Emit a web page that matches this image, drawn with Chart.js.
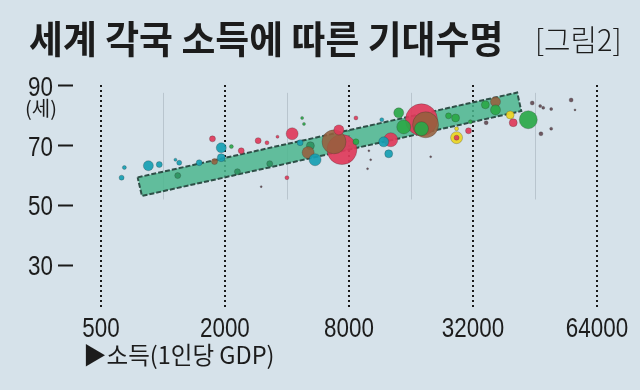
<!DOCTYPE html>
<html>
<head>
<meta charset="utf-8">
<script src="https://cdn.jsdelivr.net/npm/chart.js@4.4.1/dist/chart.umd.min.js"></script>
<style>
    body { margin: 0; background: #d6e2ea; }
    #wrap { position: relative; width: 640px; height: 390px; overflow: hidden; background: #d6e2ea; }
    #chart { position: absolute; left: 0; top: 0; }
    .txt { position: absolute; white-space: nowrap; color: #1c1c1c; line-height: 1; font-family: "Noto Sans CJK KR", sans-serif; transform-origin: left top; }
    #title { left: 29px; top: 18px; font-size: 38px; font-weight: 700; transform: scaleX(0.97); }
    #fig { left: 535px; top: 23px; font-size: 30px; font-weight: 300; transform: scaleX(0.96); }
    #unit { left: 25px; top: 98px; font-size: 20px; }
    #xtitle { left: 83px; top: 342px; font-size: 24px; transform: scaleX(0.98); }
</style>
</head>
<body>
<div id="wrap">
    <canvas id="chart" width="640" height="390"></canvas>
    <div class="txt" id="title">세계 각국 소득에 따른 기대수명</div>
    <div class="txt" id="fig">[그림2]</div>
    <div class="txt" id="unit">(세)</div>
    <div class="txt" id="xtitle">▶소득(1인당 GDP)</div>
</div>
<script>
// 축 눈금
const xTickLabels = ['500', '2000', '8000', '32000', '64000'];
const xMinorTicks = [0.5, 1.5, 2.5, 3.5];
const yTicks = [30, 50, 70, 90];

// 추세 띠 (1인당 GDP, 기대수명) - 네 꼭짓점
const bandGdp = [754, 40980, 41930, 791, 754];
const bandLife = [59.4, 87.8, 81.6, 53.2, 59.4];

// 국가별 원 (1인당 GDP, 기대수명, 원 크기, 색 그룹)
const bubbleGdp = [
    630, 650, 850, 960, 1150, 1200, 1180, 1500, 1740, 1780,
    1920, 1920, 2150, 2300, 2400, 2900, 3200, 3300, 3600, 4000,
    3000, 4240, 4740, 4840, 4635, 5200, 5070, 5480, 7400, 6770,
    7150, 8650, 8650, 10000, 10200, 9850, 11550, 12770, 11800, 12480,
    13960, 18000, 18850, 18000, 14760, 19950, 24350, 26350, 26650, 26650,
    26650, 30450, 31100, 34300, 36300, 36300, 39400, 40080, 43600, 34450,
    44570, 46600, 47400, 49550, 55400, 56600, 46800, 49550
];
const bubbleLife = [
    59.3, 62.7, 63.3, 63.7, 65.3, 64.3, 60.0, 64.3, 72.3, 64.7,
    69.3, 66.0, 69.7, 61.3, 68.3, 71.7, 71.0, 64.0, 73.0, 59.3,
    56.3, 74.0, 79.3, 77.3, 71.0, 70.0, 67.7, 65.3, 68.7, 71.3,
    75.3, 71.3, 79.3, 68.3, 65.3, 62.3, 78.7, 72.0, 71.3, 67.3,
    81.0, 78.7, 77.0, 75.7, 76.3, 66.3, 80.0, 79.3, 72.7, 75.7,
    72.7, 75.0, 78.0, 83.7, 84.7, 82.0, 80.3, 77.7, 78.7, 77.7,
    84.3, 83.3, 82.7, 82.3, 85.3, 82.0, 74.0, 75.7
];
const bubbleSize = [
    2.5, 2, 5, 3, 1.5, 2.5, 3, 3, 3, 3,
    5, 4, 2, 3, 3, 3, 2, 3, 1.5, 2,
    1, 6, 1.5, 1.5, 3, 4, 6, 6, 15, 12,
    5, 3, 2, 1, 1, 1, 2, 7, 5, 4,
    5, 16, 13, 7, 7, 1, 3, 4, 6, 2,
    2.5, 3, 2, 4, 5, 5, 4, 4, 9, 2,
    2, 1.5, 1.5, 1.5, 2, 1, 2, 1.5
];
const bubbleGroup = [
    'teal', 'teal', 'teal', 'teal', 'teal', 'teal', 'dgreen', 'teal', 'red', 'brown',
    'teal', 'teal', 'green', 'dgreen', 'red', 'red', 'red', 'dgreen', 'red', 'red',
    'dark', 'red', 'green', 'green', 'teal', 'dgreen', 'brown', 'teal', 'red', 'brown',
    'red', 'green', 'red', 'dark', 'dark', 'dark', 'teal', 'red', 'teal', 'teal',
    'green', 'red', 'brown', 'green', 'green', 'dark', 'green', 'green', 'yellow', 'yellow',
    'red', 'red', 'green', 'green', 'brown', 'green', 'yellow', 'red', 'green', 'dark',
    'dark', 'dark', 'dark', 'dark', 'dark', 'dark', 'dark', 'dark'
];

const groupColor = {
    red: 'rgba(224,58,90,0.92)',
    brown: 'rgba(150,96,62,0.88)',
    green: 'rgba(42,168,72,0.92)',
    dgreen: 'rgba(38,140,88,0.8)',
    teal: 'rgba(22,158,178,0.92)',
    yellow: 'rgba(234,212,40,0.95)',
    dark: 'rgba(92,62,72,0.85)'
};

// 500~32000은 4배 간격, 32000~64000은 한 칸
function xPos(gdp) {
    if (gdp <= 32000) return Math.log(gdp / 500) / Math.log(4);
    return 3 + Math.log2(gdp / 32000);
}

const numFont = '"Liberation Sans", Arial, sans-serif';

// 옅은 보조선
const minorLines = {
    id: 'minorLines',
    beforeDatasetsDraw(chart) {
        const { ctx, scales: { x, y } } = chart;
        ctx.save();
        ctx.strokeStyle = 'rgba(150,162,172,0.45)';
        ctx.lineWidth = 1;
        xMinorTicks.forEach(v => {
            const px = Math.round(x.getPixelForValue(v)) + 0.5;
            ctx.beginPath();
            ctx.moveTo(px, y.getPixelForValue(87.7));
            ctx.lineTo(px, y.getPixelForValue(52));
            ctx.stroke();
        });
        ctx.restore();
    }
};

// 좁은 숫자 눈금 글자
function drawNarrow(ctx, text, px, py, align) {
    ctx.save();
    ctx.translate(px, py);
    ctx.scale(0.8, 1);
    ctx.textAlign = align;
    ctx.fillText(text, 0, 0);
    ctx.restore();
}

const narrowTicks = {
    id: 'narrowTicks',
    afterDraw(chart) {
        const { ctx, scales: { x, y } } = chart;
        ctx.save();
        ctx.fillStyle = '#1c1c1c';
        ctx.font = '28px ' + numFont;
        ctx.textBaseline = 'alphabetic';
        xTickLabels.forEach((t, i) => drawNarrow(ctx, t, x.getPixelForValue(i), x.top + 27, 'center'));
        yTicks.forEach(v => drawNarrow(ctx, String(v), y.right - 20, y.getPixelForValue(v) + 10, 'right'));
        ctx.restore();
    }
};

new Chart(document.getElementById('chart'), {
    type: 'bubble',
    data: {
        datasets: [{
            data: bubbleGdp.map((g, i) => ({ x: xPos(g), y: bubbleLife[i], r: bubbleSize[i] })),
            backgroundColor: bubbleGroup.map(g => groupColor[g]),
            borderColor: 'rgba(40,40,40,0.25)',
            borderWidth: 1
        }, {
            type: 'line',
            data: bandGdp.map((g, i) => ({ x: xPos(g), y: bandLife[i] })),
            fill: 'shape',
            backgroundColor: 'rgba(76,182,142,0.85)',
            borderColor: '#2e4f47',
            borderWidth: 2,
            borderDash: [5, 2],
            pointRadius: 0,
            tension: 0
        }]
    },
    options: {
        responsive: false,
        animation: false,
        layout: { padding: { top: 85, right: 15, bottom: 40, left: 0 } },
        plugins: {
            legend: { display: false },
            tooltip: { enabled: false }
        },
        scales: {
            x: {
                type: 'linear',
                min: -0.225,
                max: 4.21,
                afterBuildTicks: s => { s.ticks = xTickLabels.map((_, i) => ({ value: i })); },
                afterFit: s => { s.height = 40; },
                ticks: { display: false },
                grid: { color: '#1a1a1a', lineWidth: 2, drawTicks: false },
                border: { display: false, dash: [2, 3] }
            },
            y: {
                min: 15,
                max: 90.33,
                afterBuildTicks: s => { s.ticks = yTicks.map(v => ({ value: v })); },
                afterFit: s => { s.width = 73; },
                ticks: { display: false },
                grid: { drawOnChartArea: false, drawTicks: true, tickLength: 15, tickColor: '#1a1a1a', tickWidth: 2 },
                border: { display: false }
            }
        }
    },
    plugins: [minorLines, narrowTicks]
});
</script>
</body>
</html>
